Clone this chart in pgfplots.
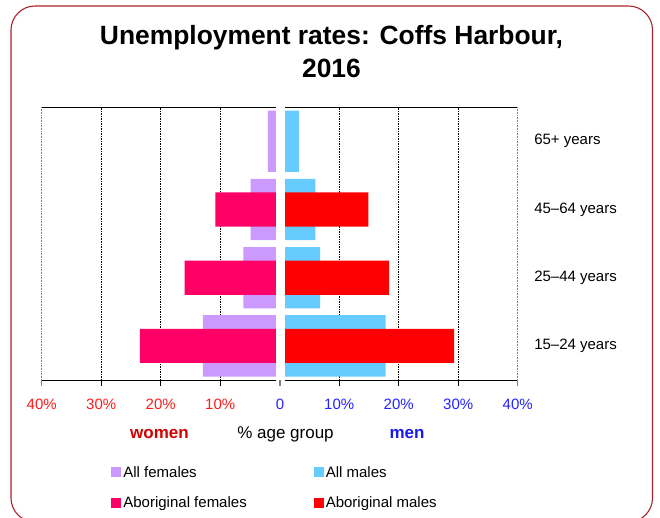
\documentclass[border=0pt]{standalone}
\usepackage{pgfplots}
\pgfplotsset{compat=1.18}
\usepackage{fontspec}
\setmainfont{Liberation Sans}
\definecolor{lav}{HTML}{CC99FF}
\definecolor{lblue}{HTML}{66CCFF}
\definecolor{apink}{HTML}{FF0066}
\definecolor{ared}{HTML}{FF0000}
\definecolor{tred}{HTML}{FF1A1A}
\definecolor{tblue}{HTML}{2222FF}
\definecolor{wred}{HTML}{D40000}
\definecolor{mblue}{HTML}{1A1AEE}
\definecolor{framec}{HTML}{A8222C}

\pgfplotsset{
 pyr/.style={
  x=5.95pt, y=68.2pt, ymin=0, ymax=4,
  xbar,
  axis x line*=box,
  xtick align=outside, xtick pos=left, major tick length=6pt,
  xmajorgrids,
  major grid style={black, line width=0.6pt, dash pattern=on 1.5pt off 1pt},
  xtick style={black, line width=0.6pt},
  axis line style={line width=0.9pt},
  xticklabel style={font=\fontsize{15}{18}\selectfont, yshift=-9pt},
  extra x tick style={major grid style={gray, line width=1.2pt, dash pattern=on 1pt off 0.6pt}, xtick style={gray, line width=1.2pt}},
  legend image code/.code={\fill[#1] (0pt,-5pt) rectangle (10pt,5pt);},
 }
}

\begin{document}
\begin{tikzpicture}
\useasboundingbox (0pt,0pt) rectangle (660pt,517pt);
\draw[framec, line width=1.1pt, rounded corners=24pt] (11pt,511pt) rectangle (652.5pt,-5pt);

\node[anchor=base, font=\fontsize{26.4}{31}\selectfont\bfseries] at (331.5pt,472pt) {Unemployment rates: Coffs Harbour,};
\node[anchor=base, font=\fontsize{26.4}{31}\selectfont\bfseries] at (331.5pt,439pt) {2016};

% women
\begin{axis}[pyr, at={(41.7pt,137pt)}, anchor=south west,
  xmin=-40, xmax=-0.65, axis y line=none,
  xtick={-30,-20,-10}, xticklabels={30\%,20\%,10\%},
  extra x ticks={-40}, extra x tick labels={40\%},
  xticklabel style={text=tred}]
\addplot[fill=lav, draw=none, bar width=0.9, bar shift=0pt]
  coordinates {(-12.9,0.5) (-6.1,1.5) (-4.9,2.5) (-2.0,3.5)};
\addplot[fill=apink, draw=none, bar width=0.5, bar shift=0pt]
  coordinates {(-23.5,0.5) (-16.0,1.5) (-10.8,2.5)};
\end{axis}

% men
\begin{axis}[pyr, at={(285.1pt,137pt)}, anchor=south west,
  xmin=0.9, xmax=40,
  axis y line*=right, y axis line style={draw=none},
  ytick={0.5,1.5,2.5,3.5},
  yticklabels={15–24 years,25–44 years,45–64 years,65+ years},
  ytick style={draw=none},
  yticklabel style={font=\fontsize{15}{18}\selectfont, xshift=7pt},
  xtick={10,20,30}, xticklabels={10\%,20\%,30\%},
  extra x ticks={40}, extra x tick labels={40\%},
  xticklabel style={text=tblue},
  legend columns=2,
  legend cell align=left,
  legend style={draw=none, fill=none, inner sep=0pt,
    at={(axis description cs:-0.7475,-0.308)}, anchor=north west,
    font=\fontsize{15}{18}\selectfont,
    row sep=14pt,
    nodes={inner xsep=2pt},
    /tikz/every even column/.append style={column sep=65pt}}]
\addlegendimage{fill=lav, draw=none}
\addlegendentry{All females}
\addplot[fill=lblue, draw=none, bar width=0.9, bar shift=0pt]
  coordinates {(17.8,0.5) (6.8,1.5) (6.0,2.5) (3.2,3.5)};
\addlegendentry{All males}
\addlegendimage{fill=apink, draw=none}
\addlegendentry{Aboriginal females}
\addplot[fill=ared, draw=none, bar width=0.5, bar shift=0pt]
  coordinates {(29.3,0.5) (18.4,1.5) (14.9,2.5)};
\addlegendentry{Aboriginal males}
\end{axis}

\draw[gray, line width=1.5pt] (280pt,137pt) -- (280pt,131pt);
\node[anchor=base, font=\fontsize{15}{18}\selectfont, text=tblue] at (280pt,108pt) {0};
\node[anchor=base, font=\fontsize{17}{20}\selectfont\bfseries, text=wred] at (159.5pt,79pt) {women};
\node[anchor=base, font=\fontsize{17}{20}\selectfont] at (285.5pt,79pt) {\% age group};
\node[anchor=base, font=\fontsize{17}{20}\selectfont\bfseries, text=mblue] at (407pt,79pt) {men};
\end{tikzpicture}
\end{document}
